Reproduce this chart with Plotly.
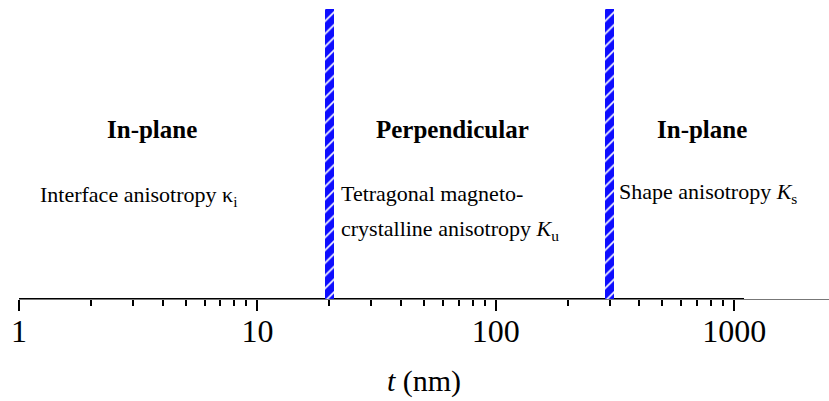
import numpy as np
import plotly.graph_objects as go

# Film thickness (nm) at which the easy axis switches
transitions = [20, 300]

# Region labels (centre thickness, text)
region_centers = [3.6, 65.6, 735]
region_titles = ["In-plane", "Perpendicular", "In-plane"]

# Descriptions of the dominating anisotropy (left-edge thickness, text)
desc_left = [1.2, 22.0, 22.0, 324]
desc_lines = [
    "Interface anisotropy κ<sub>i</sub>",
    "Tetragonal magneto-",
    "crystalline anisotropy <i>K</i><sub>u</sub>",
    "Shape anisotropy <i>K</i><sub>s</sub>",
]
desc_y = [0.354, 0.364, 0.237, 0.367]

# Axis ticks
major_ticks = [1, 10, 100, 1000]
major_labels = ["1", "10", "100", "1000"]
minor_ticks = [m * d for d in (1, 10, 100) for m in range(2, 10)]
x_max = 2500
axis_span = [1, 1100]

SERIF = "Liberation Serif"
BLUE = "#0d0dff"

fig = go.Figure()

# Hatched boundary bars, drawn on a linear overlay axis in log10 units
bar_width = 0.038
fig.add_trace(go.Bar(
    x=np.log10(transitions), y=[1] * len(transitions),
    width=bar_width, xaxis="x2", yaxis="y",
    marker=dict(color=BLUE, line=dict(width=0),
                pattern=dict(shape="/", bgcolor=BLUE, fgcolor="white",
                             size=9, solidity=0.18, fillmode="replace")),
    hoverinfo="skip", showlegend=False,
))

# Darker part of the baseline
fig.add_trace(go.Scatter(
    x=axis_span, y=[0, 0], mode="lines",
    line=dict(color="black", width=2), hoverinfo="skip", showlegend=False,
    cliponaxis=False,
))

for xc, txt in zip(region_centers, region_titles):
    fig.add_annotation(x=np.log10(xc), y=0.585, xref="x", yref="y",
                       text=f"<b>{txt}</b>", showarrow=False,
                       xanchor="center", yanchor="middle",
                       font=dict(family=SERIF, size=25, color="black"))

for xl, yl, txt in zip(desc_left, desc_y, desc_lines):
    fig.add_annotation(x=np.log10(xl), y=yl, xref="x", yref="y",
                       text=txt, showarrow=False,
                       xanchor="left", yanchor="middle", align="left",
                       font=dict(family=SERIF, size=22, color="black"))

fig.update_layout(
    width=829, height=401,
    margin=dict(l=19, r=0, t=9, b=102),
    paper_bgcolor="white", plot_bgcolor="white",
    font=dict(family=SERIF, color="black"),
    bargap=0,
    # log axis: labels and title only
    xaxis=dict(
        type="log", range=[0, np.log10(x_max)],
        tickmode="array", tickvals=major_ticks, ticktext=major_labels,
        ticks="", showline=True, linecolor="#777", linewidth=1,
        showgrid=False, zeroline=False,
        tickfont=dict(family=SERIF, size=32, color="black"),
        ticklabelstandoff=4,
        title=dict(text="<i>t</i> (nm)", standoff=21,
                   font=dict(family=SERIF, size=30, color="black")),
    ),
    # linear twin in log10 units: carries the bars and all tick marks
    xaxis2=dict(
        range=[0, np.log10(x_max)], overlaying="x", anchor="y", side="bottom",
        tickmode="array", tickvals=np.log10(major_ticks),
        ticks="outside", ticklen=11, tickwidth=2, tickcolor="black",
        minor=dict(tickmode="array", tickvals=np.log10(minor_ticks),
                   ticks="outside", ticklen=6, tickwidth=2,
                   tickcolor="black", showgrid=False),
        showticklabels=False, showline=False, showgrid=False, zeroline=False,
    ),
    yaxis=dict(range=[0, 1], visible=False),
)

fig.write_html("out.html")
